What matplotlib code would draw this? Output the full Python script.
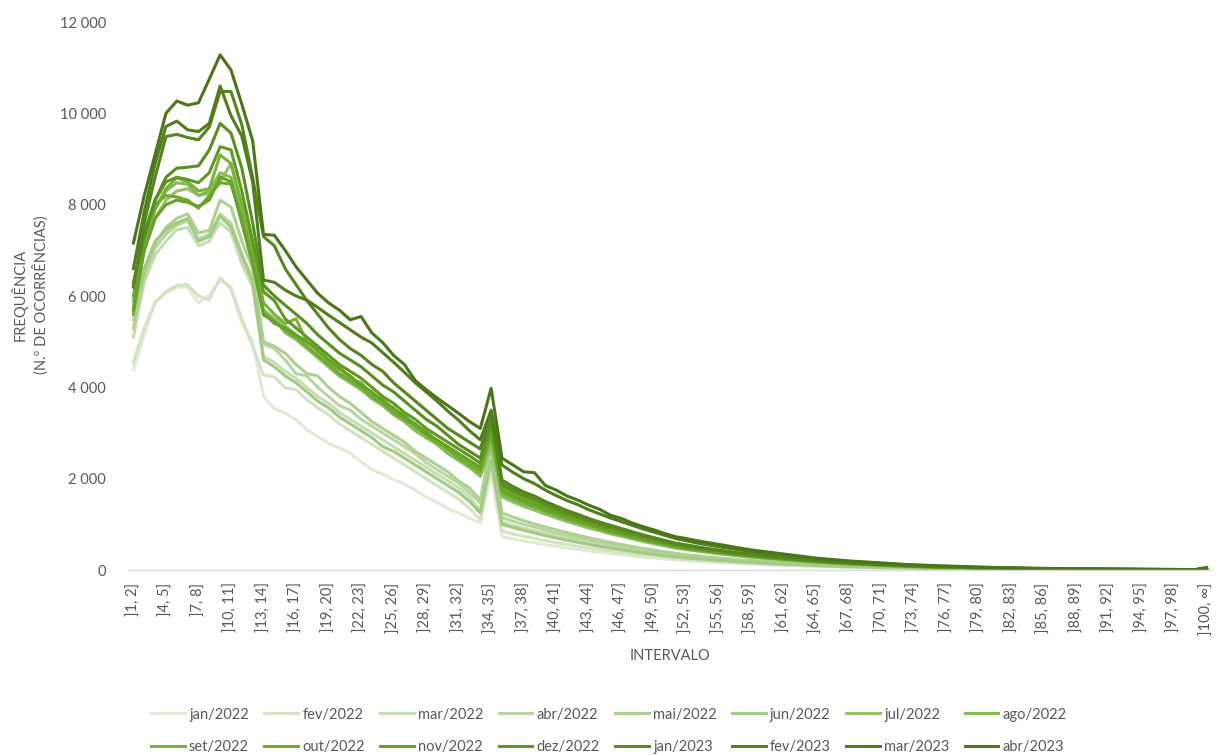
import matplotlib
matplotlib.use("Agg")
import matplotlib.pyplot as plt
from matplotlib.ticker import FuncFormatter, FixedLocator
import numpy as np

plt.rcParams['font.family'] = ['Lato', 'DejaVu Sans']

# ---------------- data ----------------
categories = [f"]{i}, {i+1}]" for i in range(1, 100)] + ["]100, ∞]"]
tick_every = 3

series_names = ["jan/2022", "fev/2022", "mar/2022", "abr/2022", "mai/2022", "jun/2022",
                "jul/2022", "ago/2022", "set/2022", "out/2022", "nov/2022", "dez/2022",
                "jan/2023", "fev/2023", "mar/2023", "abr/2023"]

jan_2022 = [4380, 5150, 5880, 6060, 6190, 6200, 5850, 6020, 6350, 6200,
            5400, 5000, 3800, 3540, 3440, 3290, 3070, 2920, 2775, 2670,
            2560, 2370, 2200, 2100, 1980, 1880, 1750, 1600, 1480, 1350,
            1250, 1130, 1030, 2120, 730, 680, 635, 600, 555, 520,
            480, 450, 420, 390, 360, 335, 310, 285, 262, 240,
            220, 203, 188, 175, 162, 150, 139, 128, 118, 110,
            100, 92, 85, 78, 71, 65, 59, 54, 50, 45,
            41, 37, 34, 31, 28, 26, 23, 21, 19, 18,
            16, 15, 13, 12, 11, 10, 9, 8, 8, 7,
            6, 6, 5, 5, 5, 4, 4, 4, 3, 12]
fev_2022 = [4550, 5300, 5850, 6100, 6230, 6250, 6000, 5920, 6400, 6150,
            5500, 4900, 4270, 4230, 3990, 3950, 3730, 3550, 3400, 3200,
            3050, 2900, 2750, 2600, 2450, 2300, 2150, 2000, 1850, 1700,
            1550, 1350, 1100, 2300, 850, 790, 740, 690, 645, 600,
            560, 520, 485, 450, 415, 385, 355, 325, 300, 275,
            250, 232, 215, 198, 184, 170, 157, 145, 134, 124,
            114, 105, 96, 88, 80, 73, 67, 61, 56, 51,
            46, 42, 38, 35, 32, 29, 26, 24, 22, 20,
            18, 16, 15, 14, 12, 11, 10, 9, 8, 8,
            7, 7, 6, 6, 5, 5, 5, 4, 4, 15]
mar_2022 = [5100, 6300, 6900, 7200, 7450, 7500, 7100, 7200, 7600, 7400,
            6700, 6200, 4670, 4550, 4350, 4200, 4000, 3800, 3650, 3450,
            3300, 3150, 3000, 2850, 2700, 2550, 2400, 2250, 2100, 1950,
            1800, 1600, 1310, 2500, 1050, 980, 915, 860, 800, 745,
            695, 650, 605, 560, 520, 480, 445, 410, 375, 345,
            315, 290, 270, 250, 232, 215, 198, 183, 170, 157,
            145, 133, 122, 111, 102, 93, 85, 78, 71, 65,
            59, 54, 49, 44, 40, 37, 34, 31, 28, 25,
            23, 21, 19, 17, 16, 14, 13, 12, 11, 10,
            9, 8, 8, 7, 7, 6, 6, 5, 5, 20]
abr_2022 = [5480, 6450, 7050, 7350, 7550, 7650, 7250, 7350, 7800, 7600,
            6900, 6400, 4950, 4850, 4600, 4300, 4250, 4000, 3800, 3600,
            3500, 3300, 3150, 3000, 2850, 2700, 2550, 2350, 2200, 2050,
            1900, 1700, 1470, 2650, 1150, 1070, 1000, 940, 870, 810,
            755, 705, 655, 610, 560, 520, 480, 440, 405, 370,
            340, 315, 290, 268, 248, 228, 210, 195, 180, 166,
            152, 140, 128, 117, 107, 98, 89, 82, 74, 68,
            62, 56, 51, 46, 42, 38, 35, 32, 29, 26,
            24, 22, 20, 18, 16, 15, 13, 12, 11, 10,
            9, 9, 8, 8, 7, 6, 6, 5, 5, 20]
mai_2022 = [5300, 6500, 7150, 7500, 7700, 7800, 7380, 7440, 8100, 7950,
            7200, 6600, 5000, 4900, 4750, 4500, 4300, 4250, 4000, 3800,
            3650, 3450, 3250, 3100, 2950, 2800, 2600, 2450, 2300, 2150,
            1950, 1800, 1530, 2800, 1250, 1160, 1080, 1010, 940, 880,
            820, 760, 705, 655, 605, 560, 515, 475, 435, 400,
            365, 335, 310, 285, 265, 245, 225, 208, 192, 177,
            162, 149, 136, 124, 113, 103, 94, 86, 78, 71,
            65, 59, 53, 48, 44, 40, 36, 33, 30, 27,
            25, 23, 21, 19, 17, 15, 14, 13, 12, 11,
            10, 9, 9, 8, 7, 7, 6, 6, 5, 25]
jun_2022 = [5630, 6600, 7200, 7450, 7600, 7700, 7200, 7300, 7750, 7500,
            6900, 6300, 4600, 4450, 4250, 4100, 3900, 3700, 3550, 3350,
            3200, 3050, 2900, 2700, 2600, 2450, 2300, 2150, 2000, 1850,
            1700, 1500, 1250, 2400, 1000, 930, 870, 810, 750, 700,
            650, 605, 560, 520, 480, 445, 410, 375, 345, 315,
            285, 265, 245, 225, 210, 193, 178, 164, 152, 140,
            128, 118, 108, 98, 90, 82, 75, 68, 62, 57,
            52, 47, 42, 38, 35, 32, 29, 26, 24, 22,
            20, 18, 16, 15, 13, 12, 11, 10, 9, 8,
            8, 7, 7, 6, 6, 5, 5, 4, 4, 20]
jul_2022 = [5760, 7000, 7700, 8100, 8300, 8350, 8200, 8250, 8500, 8900,
            8000, 7000, 5700, 5500, 5350, 5150, 4900, 4700, 4550, 4300,
            4200, 3950, 3800, 3650, 3400, 3300, 3100, 2900, 2800, 2600,
            2450, 2250, 2050, 2700, 1600, 1490, 1390, 1310, 1220, 1140,
            1060, 990, 920, 860, 790, 740, 680, 625, 575, 530,
            480, 445, 415, 385, 355, 330, 305, 280, 260, 240,
            220, 205, 185, 170, 155, 142, 130, 118, 109, 99,
            90, 82, 74, 67, 61, 56, 51, 46, 42, 38,
            35, 32, 29, 26, 24, 21, 19, 18, 16, 14,
            13, 12, 11, 10, 10, 9, 8, 7, 6, 30]
ago_2022 = [5900, 7200, 7900, 8300, 8480, 8450, 8200, 8300, 8700, 8600,
            7800, 6900, 5650, 5500, 5200, 5050, 4850, 4650, 4450, 4250,
            4100, 3950, 3750, 3600, 3400, 3250, 3050, 2900, 2750, 2550,
            2400, 2250, 2080, 2900, 1650, 1530, 1440, 1350, 1250, 1170,
            1090, 1020, 950, 880, 820, 760, 700, 640, 590, 545,
            495, 460, 425, 395, 365, 340, 315, 290, 265, 250,
            230, 210, 190, 175, 160, 147, 134, 122, 112, 102,
            92, 84, 76, 69, 63, 58, 53, 48, 43, 40,
            36, 33, 30, 26, 25, 21, 20, 18, 16, 15,
            13, 12, 12, 11, 10, 9, 8, 7, 7, 30]
set_2022 = [5600, 7100, 7900, 8350, 8590, 8500, 8300, 8350, 9090, 8900,
            8000, 7000, 5850, 5600, 5400, 5500, 5000, 4850, 4600, 4450,
            4200, 4100, 3850, 3750, 3500, 3400, 3150, 3050, 2800, 2700,
            2500, 2350, 2200, 3200, 1800, 1680, 1570, 1480, 1370, 1280,
            1190, 1120, 1040, 960, 890, 830, 770, 700, 650, 595,
            540, 500, 465, 430, 400, 370, 340, 315, 290, 270,
            250, 230, 210, 190, 175, 160, 146, 133, 122, 112,
            101, 92, 83, 76, 68, 63, 58, 52, 47, 43,
            40, 36, 32, 29, 27, 23, 22, 20, 18, 16,
            14, 14, 13, 12, 11, 10, 9, 8, 7, 35]
out_2022 = [6000, 7300, 8000, 8200, 8170, 8100, 7920, 8200, 8480, 8450,
            7700, 6800, 5580, 5450, 5250, 5100, 4900, 4700, 4500, 4300,
            4150, 4000, 3800, 3650, 3450, 3300, 3150, 2950, 2800, 2650,
            2450, 2300, 2150, 3000, 1700, 1580, 1480, 1390, 1290, 1210,
            1120, 1050, 980, 910, 840, 780, 720, 660, 610, 560,
            510, 470, 440, 410, 380, 350, 320, 300, 275, 255,
            235, 215, 197, 180, 165, 151, 138, 126, 116, 105,
            95, 87, 78, 71, 65, 60, 54, 49, 44, 41,
            37, 34, 31, 27, 25, 22, 20, 19, 17, 15,
            14, 13, 12, 11, 10, 9, 8, 8, 7, 30]
nov_2022 = [5700, 7000, 7700, 8000, 8100, 8050, 7960, 8100, 8610, 8500,
            7600, 6700, 5630, 5400, 5300, 5150, 5000, 4800, 4600, 4400,
            4250, 4050, 3900, 3700, 3550, 3350, 3200, 3000, 2850, 2700,
            2550, 2400, 2250, 3100, 1750, 1630, 1520, 1440, 1330, 1240,
            1160, 1090, 1010, 940, 870, 800, 740, 680, 630, 580,
            525, 485, 450, 420, 390, 360, 330, 305, 285, 260,
            240, 220, 205, 185, 170, 155, 142, 130, 119, 108,
            98, 89, 80, 73, 66, 61, 56, 51, 46, 42,
            38, 35, 31, 28, 26, 23, 21, 19, 17, 16,
            14, 13, 12, 11, 10, 9, 9, 8, 7, 30]
dez_2022 = [6200, 7400, 8100, 8500, 8600, 8550, 8480, 8700, 9270, 9200,
            8300, 7200, 6090, 5900, 5500, 5300, 5100, 4900, 4700, 4500,
            4350, 4200, 4000, 3800, 3650, 3450, 3300, 3100, 2950, 2800,
            2650, 2500, 2340, 3300, 1850, 1720, 1610, 1520, 1410, 1310,
            1220, 1150, 1060, 990, 920, 850, 790, 720, 670, 610,
            555, 515, 480, 445, 410, 380, 350, 325, 300, 280,
            255, 235, 215, 195, 180, 165, 150, 137, 126, 115,
            104, 94, 85, 78, 70, 65, 59, 54, 48, 44,
            41, 37, 33, 30, 28, 24, 22, 20, 18, 17,
            15, 14, 13, 12, 11, 10, 9, 8, 7, 35]
jan_2023 = [6300, 7300, 8100, 8600, 8800, 8820, 8850, 9200, 9780, 9570,
            8800, 7600, 6240, 6000, 5800, 5600, 5400, 5150, 4950, 4750,
            4600, 4450, 4250, 4050, 3900, 3700, 3500, 3300, 3150, 2950,
            2750, 2600, 2450, 3300, 1900, 1770, 1650, 1560, 1440, 1350,
            1250, 1180, 1090, 1020, 940, 870, 810, 740, 680, 630,
            570, 530, 490, 455, 420, 390, 360, 330, 310, 285,
            260, 240, 220, 200, 185, 170, 155, 140, 130, 118,
            106, 97, 87, 80, 72, 66, 61, 55, 49, 46,
            42, 38, 34, 30, 28, 25, 23, 21, 19, 17,
            15, 14, 13, 12, 11, 10, 9, 8, 8, 40]
fev_2023 = [6200, 7600, 8600, 9490, 9540, 9470, 9420, 9700, 10480, 10480,
            9750, 8600, 7300, 7100, 6600, 6250, 5900, 5600, 5300, 5050,
            4850, 4700, 4500, 4350, 4100, 3900, 3700, 3500, 3300, 3100,
            2950, 2800, 2650, 3400, 1970, 1830, 1710, 1620, 1500, 1400,
            1300, 1220, 1130, 1050, 980, 910, 840, 770, 710, 650,
            590, 550, 510, 470, 440, 400, 375, 345, 320, 295,
            270, 250, 230, 210, 190, 175, 160, 145, 135, 120,
            110, 100, 90, 83, 75, 69, 63, 57, 51, 47,
            43, 39, 35, 32, 30, 26, 24, 22, 20, 18,
            16, 15, 14, 13, 12, 11, 10, 9, 8, 40]
mar_2023 = [6600, 7850, 8900, 9710, 9830, 9640, 9600, 9780, 10600, 9950,
            9500, 8500, 6350, 6300, 6130, 6000, 5910, 5750, 5580, 5420,
            5260, 5100, 4970, 4760, 4550, 4330, 4100, 3900, 3700, 3480,
            3280, 3050, 2850, 3500, 2300, 2140, 2000, 1890, 1750, 1630,
            1520, 1430, 1320, 1230, 1140, 1060, 980, 900, 830, 760,
            690, 640, 590, 550, 510, 470, 440, 400, 370, 345,
            320, 290, 265, 245, 225, 205, 185, 170, 155, 145,
            130, 115, 105, 95, 88, 80, 74, 67, 60, 55,
            50, 46, 41, 37, 34, 30, 28, 25, 23, 21,
            18, 17, 16, 15, 14, 13, 12, 10, 9, 45]
abr_2023 = [7160, 8200, 9100, 10000, 10270, 10180, 10230, 10750, 11280, 10950,
            10200, 9400, 7350, 7330, 7000, 6640, 6350, 6060, 5850, 5690,
            5480, 5550, 5190, 4980, 4700, 4500, 4150, 3950, 3770, 3600,
            3430, 3250, 3100, 3980, 2450, 2300, 2150, 2130, 1850, 1750,
            1620, 1530, 1420, 1330, 1200, 1130, 1030, 950, 880, 800,
            730, 690, 640, 600, 560, 520, 480, 440, 410, 380,
            350, 320, 290, 260, 240, 220, 200, 185, 170, 155,
            140, 125, 115, 105, 95, 88, 80, 72, 65, 58,
            52, 47, 42, 38, 35, 32, 29, 26, 24, 22,
            20, 18, 17, 15, 14, 13, 12, 11, 10, 55]

series_values = [jan_2022, fev_2022, mar_2022, abr_2022, mai_2022, jun_2022,
                 jul_2022, ago_2022, set_2022, out_2022, nov_2022, dez_2022,
                 jan_2023, fev_2023, mar_2023, abr_2023]

colors = ["#dfebd5", "#d2e4c3", "#c6ddb3", "#b9d6a2", "#aed093", "#a2ca82",
          "#93c36c", "#85bc55", "#78b33a", "#70ab2e", "#68a127", "#619823",
          "#5a8e20", "#55861e", "#4f7e1b", "#4a7619"]

for name, v in zip(series_names, series_values):
    assert len(v) == len(categories), (name, len(v))

# ---------------- figure ----------------
W, H = 1218, 756
fig = plt.figure(figsize=(W / 100, H / 100), dpi=100)
ax_l, ax_r, ax_t, ax_b = 128, 1212, 22, 570
ax = fig.add_axes([ax_l / W, 1 - ax_b / H, (ax_r - ax_l) / W, (ax_b - ax_t) / H])

x = np.arange(len(categories))
handles = []
for name, vals, col in zip(series_names, series_values, colors):
    h, = ax.plot(x, vals, color=col, lw=2.2, solid_joinstyle='round', label=name)
    handles.append(h)

txt_col = "#595959"
ax.set_xlim(-0.5, len(categories) - 0.5)
ax.set_ylim(0, 12000)
ax.yaxis.set_major_locator(FixedLocator(np.arange(0, 12001, 2000)))
ax.yaxis.set_major_formatter(FuncFormatter(lambda v, p: f"{int(v):,}".replace(",", " ")))
ax.set_xticks(x[::tick_every])
ax.set_xticklabels(categories[::tick_every], rotation=90, va='top', ha='center')
ax.tick_params(axis='both', length=0, colors=txt_col, labelsize=10.5)
ax.tick_params(axis='y', pad=16)
ax.tick_params(axis='x', pad=9)
for s in ['top', 'right', 'left']:
    ax.spines[s].set_visible(False)
ax.spines['bottom'].set_color('#d9d9d9')
ax.spines['bottom'].set_linewidth(1.0)
ax.set_facecolor('white')

fig.text(30 / W, 1 - 295 / H, "FREQUÊNCIA\n(N.º DE OCORRÊNCIAS)", rotation=90,
         ha='center', va='center', multialignment='center', color=txt_col,
         fontsize=10.5, linespacing=1.35)
fig.text(670 / W, 1 - 656 / H, "INTERVALO", ha='center', va='center',
         color=txt_col, fontsize=10.5)

# legend: row-major order with 8 columns
order = []
for c in range(8):
    order += [c, c + 8]
leg = fig.legend([handles[i] for i in order], [series_names[i] for i in order],
                 loc='center', bbox_to_anchor=(609 / W, 1 - 731 / H), ncol=8,
                 frameon=False, handlelength=2.3, handletextpad=0.3,
                 columnspacing=1.05, labelspacing=1.3, fontsize=10.5,
                 labelcolor=txt_col)

fig.savefig("out.png", dpi=100, facecolor='white')
